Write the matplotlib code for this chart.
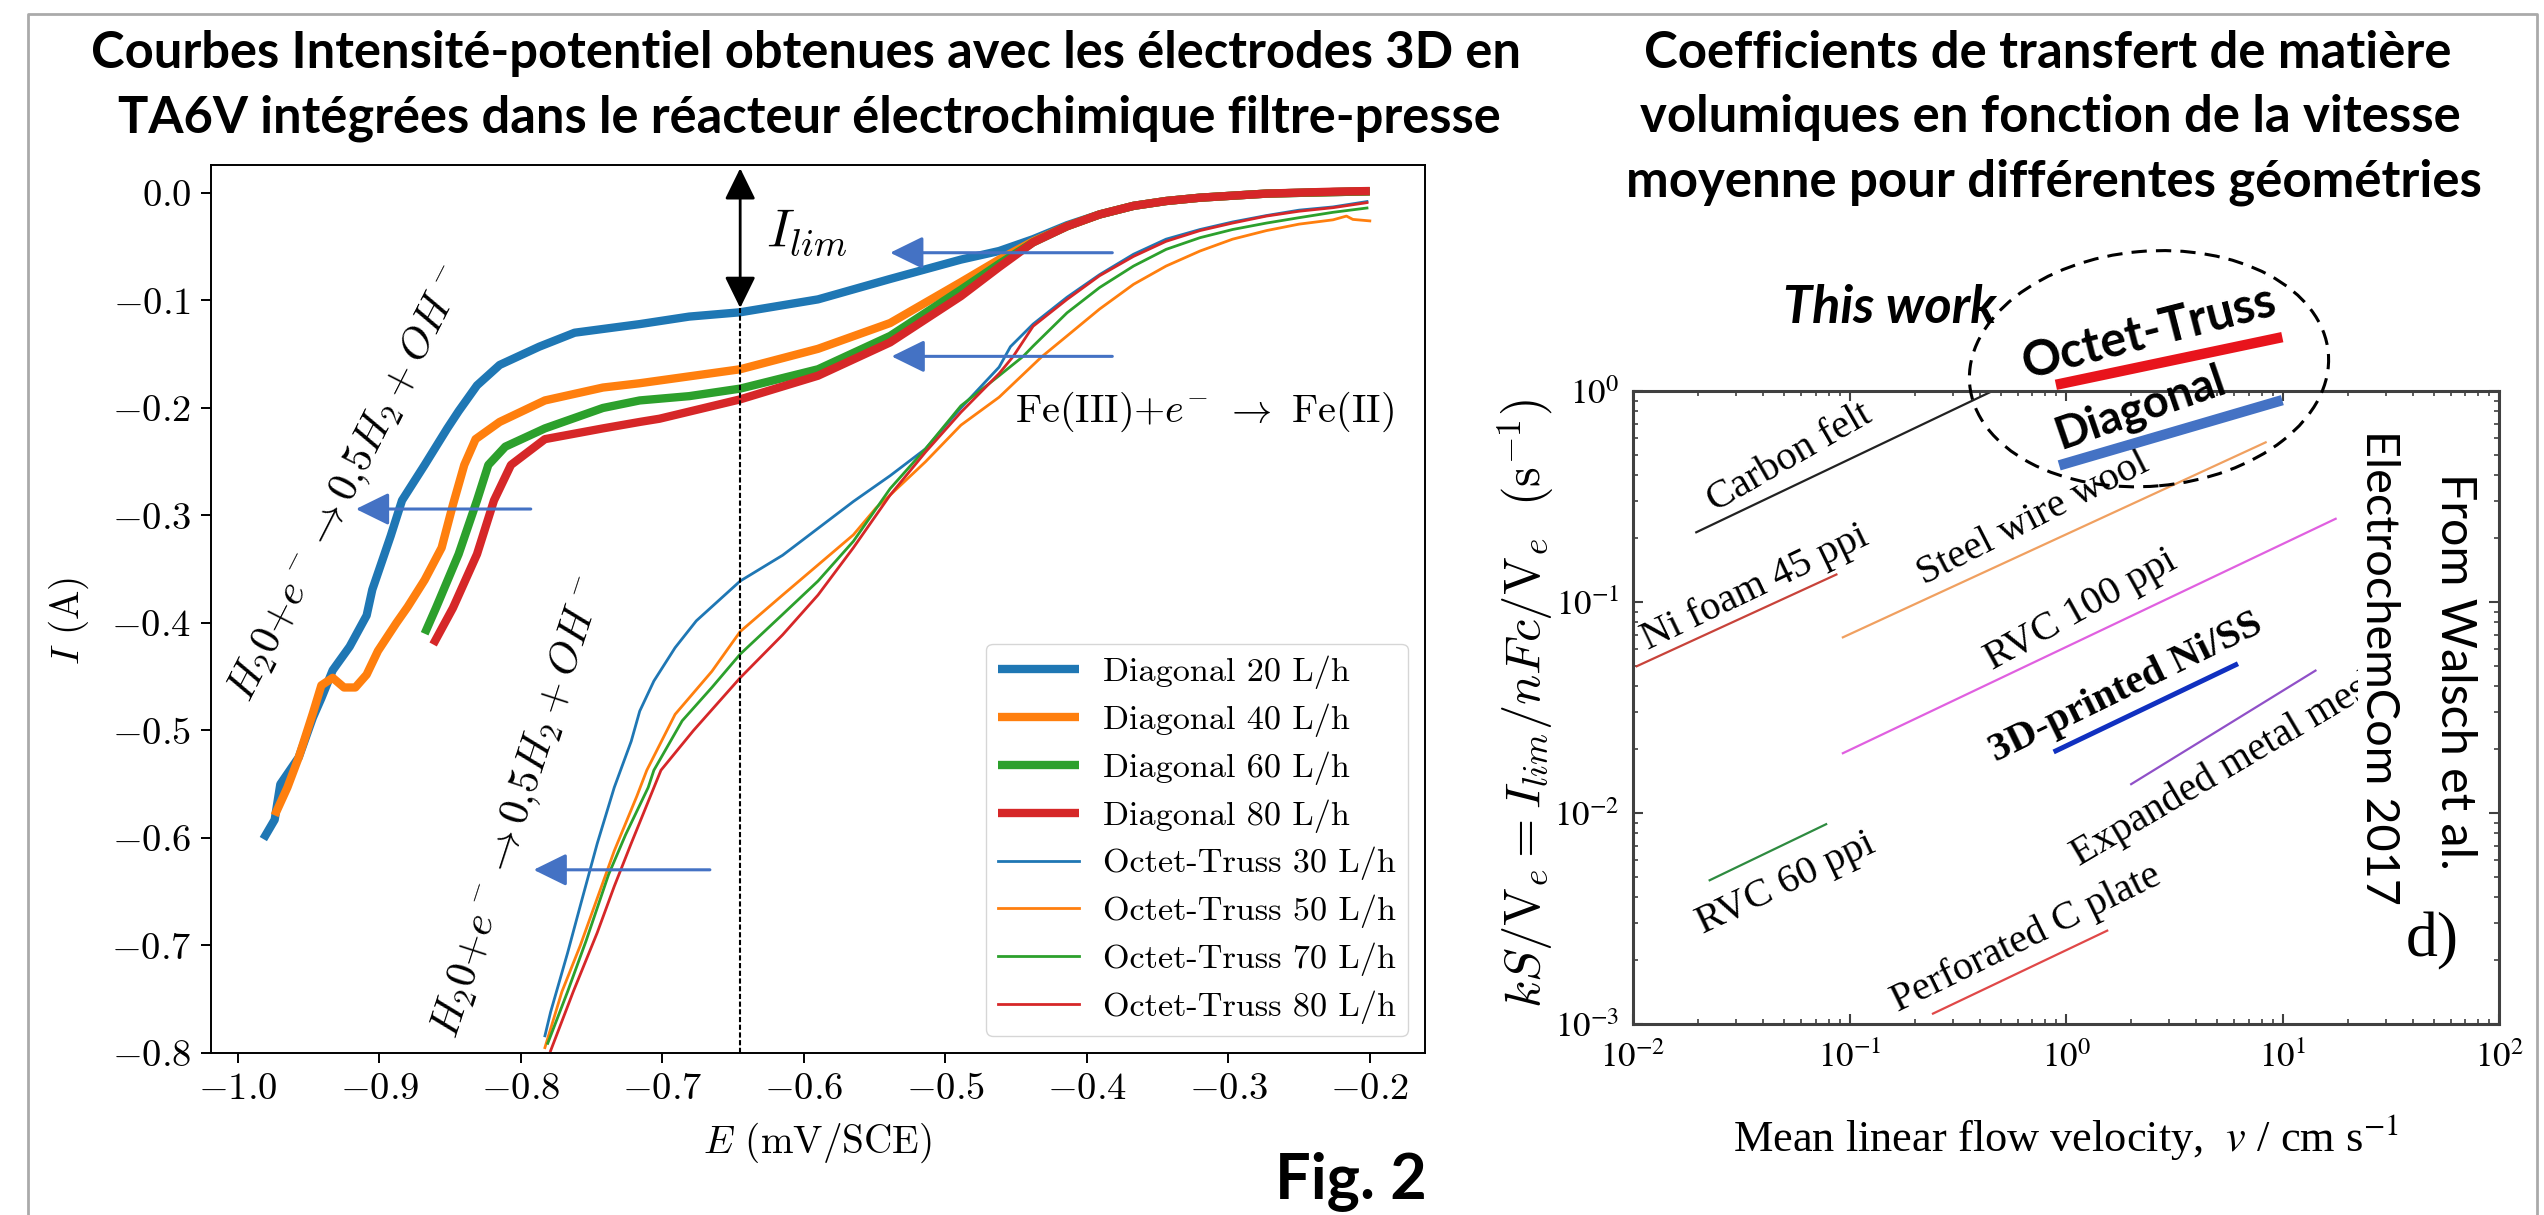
import matplotlib
matplotlib.use("Agg")
import matplotlib.pyplot as plt
import numpy as np
from matplotlib.patches import Ellipse
from matplotlib.lines import Line2D
from matplotlib.ticker import LogLocator, NullFormatter

plt.rcParams.update({
    "font.family": "serif",
    "font.serif": ["cmr10"],
    "mathtext.fontset": "cm",
    "axes.formatter.use_mathtext": True,
    "axes.unicode_minus": True,
})

# ---------------- data : left panel (E in V/SCE, I in A) ----------------
diag20_E = [-0.982, -0.974, -0.970, -0.957, -0.947, -0.941, -0.933, -0.921, -0.909, -0.905, -0.892, -0.884,
            -0.868, -0.852, -0.844, -0.831, -0.815, -0.787, -0.762, -0.716, -0.681, -0.645, -0.590, -0.539,
            -0.489, -0.462, -0.438, -0.414, -0.391, -0.367, -0.344, -0.320, -0.273, -0.226, -0.200]
diag20_I = [-0.601, -0.583, -0.550, -0.525, -0.488, -0.470, -0.444, -0.422, -0.393, -0.369, -0.319, -0.286,
            -0.253, -0.219, -0.203, -0.179, -0.160, -0.143, -0.130, -0.122, -0.115, -0.111, -0.099, -0.080,
            -0.062, -0.054, -0.043, -0.030, -0.020, -0.012, -0.0075, -0.0044, -0.0006, 0.0008, 0.0015]

diag40_E = [-0.974, -0.965, -0.957, -0.947, -0.941, -0.933, -0.925, -0.917, -0.909, -0.901, -0.888, -0.880,
            -0.868, -0.856, -0.848, -0.840, -0.832, -0.815, -0.783, -0.742, -0.716, -0.645, -0.590, -0.539,
            -0.489, -0.462, -0.438, -0.414, -0.391, -0.367, -0.344, -0.320, -0.273, -0.226, -0.200]
diag40_I = [-0.579, -0.553, -0.525, -0.484, -0.458, -0.451, -0.460, -0.460, -0.448, -0.426, -0.400, -0.385,
            -0.360, -0.330, -0.290, -0.253, -0.229, -0.213, -0.193, -0.181, -0.177, -0.164, -0.145, -0.121,
            -0.083, -0.062, -0.045, -0.031, -0.020, -0.012, -0.0075, -0.0044, -0.0006, 0.0008, 0.0015]

diag60_E = [-0.868, -0.860, -0.844, -0.831, -0.823, -0.811, -0.783, -0.742, -0.716, -0.681, -0.645, -0.590,
            -0.539, -0.489, -0.462, -0.438, -0.414, -0.391, -0.367, -0.344, -0.320, -0.273, -0.226, -0.200]
diag60_I = [-0.410, -0.386, -0.336, -0.286, -0.253, -0.236, -0.219, -0.200, -0.193, -0.189, -0.182, -0.164,
            -0.133, -0.090, -0.066, -0.046, -0.031, -0.020, -0.012, -0.0075, -0.0044, -0.0006, 0.0008, 0.0015]

diag80_E = [-0.862, -0.848, -0.831, -0.819, -0.807, -0.783, -0.742, -0.716, -0.702, -0.645, -0.590, -0.539,
            -0.489, -0.462, -0.438, -0.414, -0.391, -0.367, -0.344, -0.320, -0.273, -0.226, -0.200]
diag80_I = [-0.420, -0.386, -0.336, -0.286, -0.253, -0.229, -0.219, -0.213, -0.210, -0.192, -0.170, -0.139,
            -0.096, -0.069, -0.046, -0.031, -0.020, -0.012, -0.0075, -0.0044, -0.0006, 0.0012, 0.0018]

oct30_E = [-0.783, -0.779, -0.767, -0.758, -0.746, -0.734, -0.722, -0.716, -0.706, -0.691, -0.676, -0.645,
           -0.615, -0.590, -0.565, -0.539, -0.514, -0.489, -0.462, -0.454, -0.438, -0.414, -0.391, -0.367,
           -0.344, -0.320, -0.297, -0.273, -0.250, -0.226, -0.202]
oct30_I = [-0.784, -0.762, -0.707, -0.663, -0.605, -0.553, -0.510, -0.482, -0.454, -0.423, -0.398, -0.361,
           -0.337, -0.312, -0.287, -0.263, -0.238, -0.200, -0.162, -0.143, -0.122, -0.097, -0.076, -0.057,
           -0.043, -0.034, -0.027, -0.021, -0.016, -0.013, -0.008]

oct50_E = [-0.783, -0.771, -0.758, -0.746, -0.734, -0.718, -0.711, -0.691, -0.665, -0.645, -0.615, -0.590,
           -0.565, -0.549, -0.539, -0.514, -0.489, -0.462, -0.432, -0.414, -0.391, -0.367, -0.344, -0.320,
           -0.297, -0.273, -0.250, -0.226, -0.2165, -0.212, -0.200]
oct50_I = [-0.795, -0.743, -0.700, -0.656, -0.612, -0.561, -0.537, -0.485, -0.445, -0.408, -0.374, -0.346,
           -0.318, -0.293, -0.281, -0.250, -0.216, -0.190, -0.1525, -0.133, -0.108, -0.085, -0.068, -0.054,
           -0.043, -0.035, -0.029, -0.025, -0.0215, -0.0246, -0.026]

oct70_E = [-0.781, -0.767, -0.754, -0.738, -0.726, -0.710, -0.706, -0.686, -0.665, -0.645, -0.615, -0.590,
           -0.565, -0.539, -0.514, -0.489, -0.462, -0.445, -0.438, -0.414, -0.391, -0.367, -0.344, -0.320,
           -0.297, -0.273, -0.250, -0.226, -0.202]
oct70_I = [-0.791, -0.743, -0.696, -0.634, -0.597, -0.553, -0.537, -0.491, -0.460, -0.429, -0.392, -0.361,
           -0.324, -0.275, -0.238, -0.198, -0.170, -0.152, -0.1425, -0.1115, -0.088, -0.068, -0.0525, -0.0416,
           -0.034, -0.028, -0.023, -0.018, -0.014]

oct80_E = [-0.779, -0.763, -0.746, -0.734, -0.722, -0.701, -0.678, -0.645, -0.615, -0.590, -0.565, -0.539,
           -0.514, -0.489, -0.462, -0.452, -0.438, -0.414, -0.391, -0.367, -0.344, -0.320, -0.297, -0.273,
           -0.250, -0.226, -0.202]
oct80_I = [-0.798, -0.743, -0.688, -0.645, -0.605, -0.537, -0.500, -0.451, -0.411, -0.374, -0.330, -0.281,
           -0.241, -0.204, -0.168, -0.152, -0.124, -0.099, -0.077, -0.059, -0.045, -0.035, -0.028, -0.0215,
           -0.017, -0.0137, -0.009]

thick_labels = ["Diagonal 20 L/h", "Diagonal 40 L/h", "Diagonal 60 L/h", "Diagonal 80 L/h"]
thin_labels = ["Octet-Truss 30 L/h", "Octet-Truss 50 L/h", "Octet-Truss 70 L/h", "Octet-Truss 80 L/h"]
series_colors = ["#1f77b4", "#ff7f0e", "#2ca02c", "#d62728"]

e_ticks = [-1.0, -0.9, -0.8, -0.7, -0.6, -0.5, -0.4, -0.3, -0.2]
i_ticks = [-0.8, -0.7, -0.6, -0.5, -0.4, -0.3, -0.2, -0.1, 0.0]

E_lim = -0.645
I_lim_value = -0.107

# ---------------- data : right panel (v in cm/s, kS/Ve in 1/s) ----------------
lit_names = ["Carbon felt", "Ni foam 45 ppi", "Steel wire wool", "RVC 100 ppi",
             "3D-printed Ni/SS", "Expanded metal mesh", "RVC 60 ppi", "Perforated C plate"]
lit_v_start = [0.0196, 0.0104, 0.0932, 0.0932, 0.898, 2.0, 0.0226, 0.243]
lit_v_end = [0.458, 0.087, 8.36, 17.6, 6.08, 14.2, 0.078, 1.55]
lit_k_start = [0.214, 0.0496, 0.068, 0.0192, 0.0197, 0.0137, 0.0048, 0.00112]
lit_k_end = [1.0, 0.135, 0.571, 0.248, 0.0504, 0.0473, 0.00885, 0.00277]
lit_colors = ["#222222", "#c8433a", "#f0a060", "#e060e0", "#1030c0", "#9050c8", "#2e8b40", "#e04848"]
lit_lw = [1.6, 1.6, 1.6, 1.6, 3.6, 1.6, 1.6, 1.6]

lab_v = [0.0531, 0.0365, 0.702, 1.17, 1.89, 5.66, 0.0509, 0.653]
lab_k = [0.484, 0.117, 0.248, 0.0912, 0.0391, 0.0166, 0.00461, 0.00253]
lab_rot = [30, 25.6, 27, 29, 26, 30.5, 25.5, 26]
lab_len = [194, 247, 261, 218, 296, None, 192, 296]

work_names = ["Octet-Truss", "Diagonal"]
work_v_start = [0.898, 0.93]
work_v_end = [9.98, 9.98]
work_k_start = [1.07, 0.444]
work_k_end = [1.80, 0.905]
work_colors = ["#e8141c", "#4472c4"]

v_ticks = [1e-2, 1e-1, 1e0, 1e1, 1e2]
v_tick_labels = [r"$10^{-2}$", r"$10^{-1}$", r"$10^{0}$", r"$10^{1}$", r"$10^{2}$"]
k_ticks = [1e-3, 1e-2, 1e-1, 1e0]
k_tick_labels = [r"$10^{-3}$", r"$10^{-2}$", r"$10^{-1}$", r"$10^{0}$"]

# ---------------- figure ----------------
W, H, DPI = 2544, 1215, 100
fig = plt.figure(figsize=(W / DPI, H / DPI), dpi=DPI)
R = fig.canvas.get_renderer()
PX2PT = 72.0 / DPI


def fx(px):
    return px / W


def fy(py):
    return 1 - py / H


def fit(t, target, height=False):
    bb = t.get_window_extent(R)
    cur = bb.height if height else bb.width
    t.set_fontsize(t.get_fontsize() * target / cur)
    return t.get_fontsize()


def size_for(s, target, **kw):
    t = fig.text(0, 0, s, fontsize=20, **kw)
    fs = fit(t, target)
    t.remove()
    return fs


# frame
fig.add_artist(Line2D([fx(28), fx(28), fx(2537), fx(2537)], [0, fy(14), fy(14), 0],
                      transform=fig.transFigure, color="#aaaaaa", lw=2))

# ---------------- left panel ----------------
axL = fig.add_axes([fx(211), fy(1053), 1214 / W, 888 / H])
thick = [(diag20_E, diag20_I), (diag40_E, diag40_I), (diag60_E, diag60_I), (diag80_E, diag80_I)]
thin = [(oct30_E, oct30_I), (oct50_E, oct50_I), (oct70_E, oct70_I), (oct80_E, oct80_I)]
for (E, I), lab, c in zip(thick, thick_labels, series_colors):
    axL.plot(E, I, color=c, lw=6, label=lab, solid_capstyle="butt", solid_joinstyle="round")
for (E, I), lab, c in zip(thin, thin_labels, series_colors):
    axL.plot(E, I, color=c, lw=2, label=lab)
axL.set_xlim(-1.019, -0.161)
axL.set_ylim(-0.8, 0.026)
axL.set_xticks(e_ticks)
axL.set_yticks(i_ticks)
fs_tick = size_for(r"$\mathdefault{-0.5}$", 80)
axL.tick_params(labelsize=fs_tick, length=7.2, width=1.4, pad=7)
for s in axL.spines.values():
    s.set_linewidth(1.4)

xl = axL.set_xlabel(r"$E$ (mV/SCE)", fontsize=20)
fit(xl, 230)
xl.set_va("center")
axL.xaxis.set_label_coords(0.5, -0.1014)
yl = axL.set_ylabel(r"$I$ (A)", fontsize=xl.get_fontsize())
yl.set_va("center")
axL.yaxis.set_label_coords(-0.117, 0.487)

fs_leg = size_for("Diagonal 20 L/h", 247)
fs_leg_px = fs_leg / PX2PT
axL.legend(loc="lower right", fontsize=fs_leg, handlelength=81 / fs_leg_px,
           handletextpad=24 / fs_leg_px, borderaxespad=17 / fs_leg_px,
           labelspacing=0.42, borderpad=0.35)

# I_lim marker
axL.plot([E_lim, E_lim], [-0.8, I_lim_value], ls=(0, (2.5, 1.2)), color="black", lw=1.5)
axL.annotate("", xy=(E_lim, I_lim_value), xytext=(E_lim, 0.023),
             arrowprops=dict(arrowstyle="<|-|>,head_length=0.55,head_width=0.27",
                             mutation_scale=35, lw=2, color="black", shrinkA=0, shrinkB=0))
tl = axL.text(-0.598, -0.037, r"$I_{lim}$", ha="center", va="center", fontsize=20)
fit(tl, 84)

# blue arrows
arrow_tails = [(-0.793, -0.294), (-0.6664, -0.6296), (-0.382, -0.0556), (-0.382, -0.152)]
arrow_tips = [(-0.9166, -0.294), (-0.791, -0.6296), (-0.539, -0.0556), (-0.538, -0.152)]
for tail, tip in zip(arrow_tails, arrow_tips):
    axL.annotate("", xy=tip, xytext=tail,
                 arrowprops=dict(arrowstyle="-|>,head_length=0.55,head_width=0.27",
                                 mutation_scale=37, lw=2.2, color="#4472c4",
                                 shrinkA=0, shrinkB=0))

tfe = axL.text(-0.3166, -0.204, r"Fe(III)+$e^{-}$ $\rightarrow$ Fe(II)", ha="center", va="center",
               fontsize=20)
fit(tfe, 380)

h2o = r"$H_20{+}e^- \rightarrow 0{,}5H_2 + OH^-$"
for (ex, iy, rot) in [(-0.9217, -0.2709, 63), (-0.8007, -0.5716, 72)]:
    t = axL.text(ex, iy, h2o, ha="center", va="center", rotation_mode="anchor", fontsize=20)
    fit(t, 482)
    t.set_rotation(rot)

# ---------------- right panel ----------------
axR = fig.add_axes([fx(1633), fy(1024), 866 / W, 633 / H])
axR.set_xscale("log")
axR.set_yscale("log")
for vs, ve, ks, ke, c, lw in zip(lit_v_start, lit_v_end, lit_k_start, lit_k_end, lit_colors, lit_lw):
    axR.plot([vs, ve], [ks, ke], color=c, lw=lw)
for vs, ve, ks, ke, c in zip(work_v_start, work_v_end, work_k_start, work_k_end, work_colors):
    axR.plot([vs, ve], [ks, ke], color=c, lw=7.5, clip_on=False, solid_capstyle="butt", zorder=5)
axR.set_xlim(1e-2, 1e2)
axR.set_ylim(1e-3, 1e0)
axR.set_xticks(v_ticks, v_tick_labels, math_fontfamily="stix", fontsize=25)
axR.set_yticks(k_ticks, k_tick_labels, math_fontfamily="stix", fontsize=25)
axR.xaxis.set_minor_locator(LogLocator(base=10, subs=np.arange(2, 10)))
axR.yaxis.set_minor_locator(LogLocator(base=10, subs=np.arange(2, 10)))
axR.xaxis.set_minor_formatter(NullFormatter())
axR.yaxis.set_minor_formatter(NullFormatter())
axR.tick_params(which="both", direction="in", top=True, right=True, color="#404040")
axR.tick_params(which="major", length=7.5, width=1.5)
axR.tick_params(which="minor", length=3.8, width=1.2)
axR.tick_params(axis="x", pad=12)
axR.tick_params(axis="y", pad=10)
for s in axR.spines.values():
    s.set_linewidth(2.2)
    s.set_color("#404040")

yR = axR.set_ylabel(r"$kS/\mathrm{V}_e = I_{lim}/nFc/\mathrm{V}_e\ \ (\mathrm{s}^{-1})$", fontsize=20)
fit(yR, 611, height=True)
yR.set_va("center")
axR.yaxis.set_label_coords(-0.1236, 0.507)
xR = axR.set_xlabel(r"Mean linear flow velocity,  $v$ / cm s$^{-1}$", fontsize=20,
                    family="Liberation Serif", math_fontfamily="stix")
fit(xR, 666)
xR.set_va("center")
axR.xaxis.set_label_coords(0.5, -0.1785)

sizes = []
for name, L in zip(lit_names, lab_len):
    if L is None:
        continue
    w = "bold" if name.startswith("3D") else "normal"
    sizes.append(size_for(name, L, family="Liberation Serif", weight=w))
fs_lab = float(np.median(sizes))
for name, v, k, rot in zip(lit_names, lab_v, lab_k, lab_rot):
    w = "bold" if name.startswith("3D") else "normal"
    axR.text(v, k, name, rotation=rot, rotation_mode="anchor", ha="center", va="center",
             family="Liberation Serif", weight=w, fontsize=fs_lab, zorder=3)

axR.text(49, 0.00247, "d)", ha="center", va="center", family="Liberation Serif", fontsize=46, zorder=6)

for s, xc, yc, L in [("From Walsch et al.", 2455, 671.6, 397), ("ElectrochemCom 2017", 2379, 668, 475)]:
    t = fig.text(fx(xc), fy(yc), s, ha="center", va="center", family="Lato", fontsize=20,
                 rotation_mode="anchor", zorder=4,
                 bbox=dict(facecolor="white", edgecolor="none", pad=0))
    fit(t, L)
    t.set_rotation(270)

# this work annotations
fig.add_artist(Ellipse((21.49, (H - 368.7) / DPI), 3.6, 2.35, angle=5, transform=fig.dpi_scale_trans,
                       fill=False, ec="black", lw=2.2, ls=(0, (5, 3)), zorder=6))
t = fig.text(fx(1889.5), fy(308), "This work", ha="center", va="center", family="Lato",
             weight="bold", style="italic", fontsize=20)
fit(t, 213)
for s, xc, yc, L, rot in [("Octet-Truss", 2149, 333, 261, 14.4), ("Diagonal", 2140.6, 407.8, 177, 19)]:
    t = fig.text(fx(xc), fy(yc), s, ha="center", va="center", family="Lato", weight="bold",
                 rotation_mode="anchor", fontsize=20, zorder=7)
    fit(t, L)
    t.set_rotation(rot)

# ---------------- titles ----------------
tA = fig.text(fx(806), fy(68), "Courbes Intensité-potentiel obtenues avec les électrodes 3D en",
              ha="center", va="baseline", family="Lato", weight="bold", fontsize=20)
fsA = fit(tA, 1434)
fig.text(fx(809.5), fy(132), "TA6V intégrées dans le réacteur électrochimique filtre-presse",
         ha="center", va="baseline", family="Lato", weight="bold", fontsize=fsA)

tB = fig.text(fx(2054), fy(197), "moyenne pour différentes géométries",
              ha="center", va="baseline", family="Lato", weight="bold", fontsize=20)
fsB = fit(tB, 856)
fig.text(fx(2048), fy(68), "Coefficients de transfert de matière",
         ha="center", va="baseline", family="Lato", weight="bold", fontsize=fsB)
fig.text(fx(2050), fy(132), "volumiques en fonction de la vitesse",
         ha="center", va="baseline", family="Lato", weight="bold", fontsize=fsB)

tF = fig.text(fx(1351), fy(1198), "Fig. 2", ha="center", va="baseline", family="Lato",
              weight="bold", fontsize=20)
fit(tF, 152)

fig.savefig("out.png", dpi=DPI, facecolor="white")
